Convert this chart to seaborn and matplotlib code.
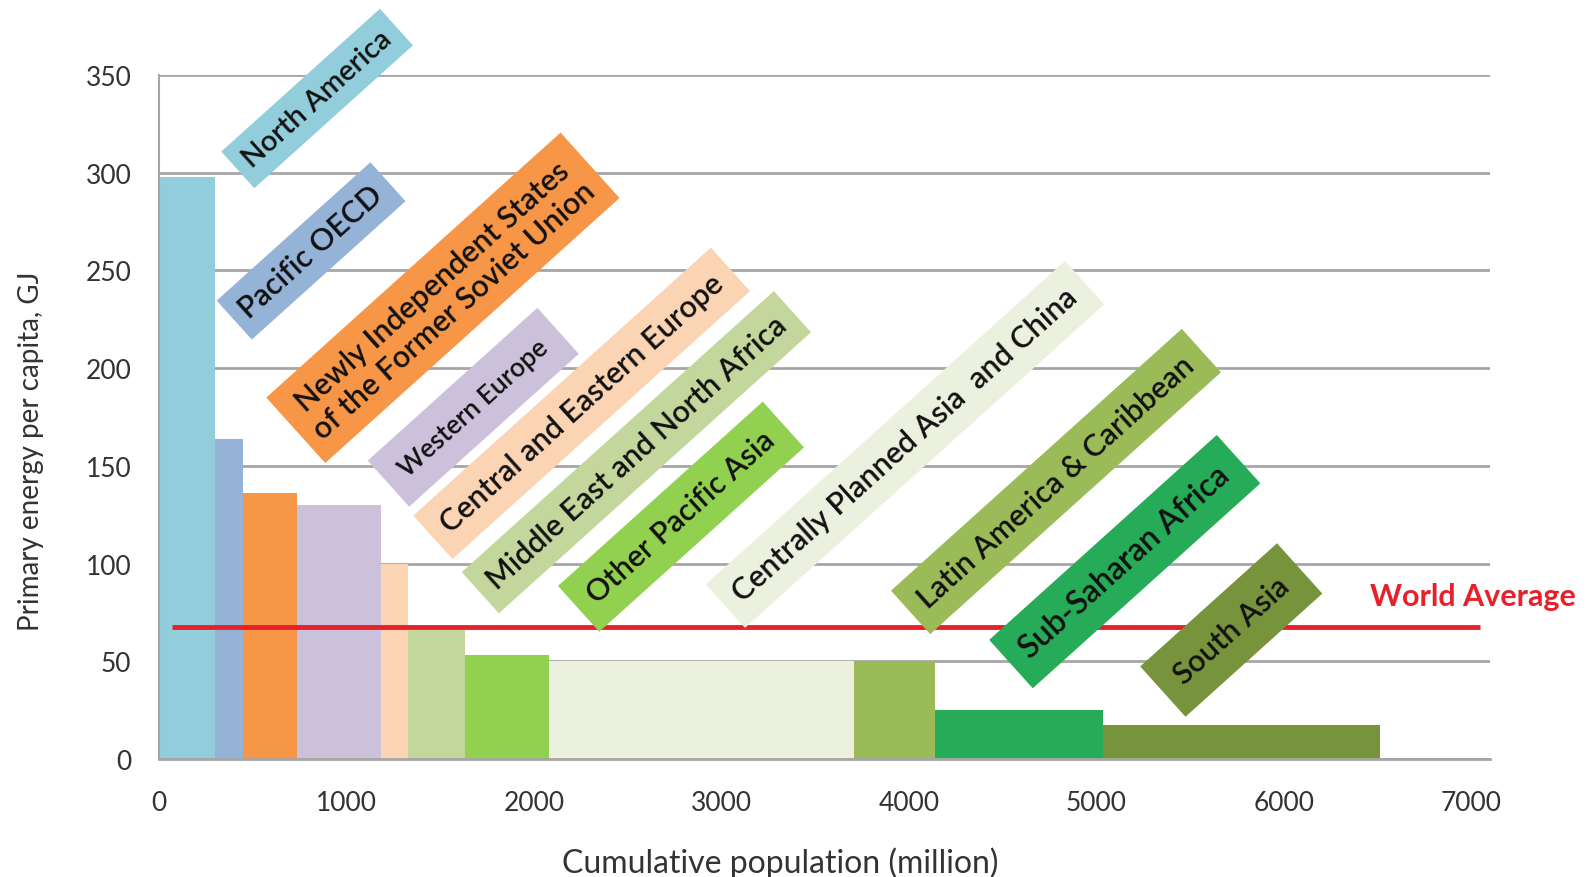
import numpy as np
import pandas as pd
import matplotlib
matplotlib.use("Agg")
import matplotlib.pyplot as plt
import seaborn as sns

# regions, population (million) and primary energy per capita (GJ)
regions = [
    "North America",
    "Pacific OECD",
    "Newly Independent States\nof the Former Soviet Union",
    "Western Europe",
    "Central and Eastern Europe",
    "Middle East and North Africa",
    "Other Pacific Asia",
    "Centrally Planned Asia  and China",
    "Latin America & Caribbean",
    "Sub-Saharan Africa",
    "South Asia",
]
population = [299, 149, 288, 448, 144, 304, 448, 1627, 432, 896, 1477]
energy = [298, 164, 136, 130, 100, 66, 53, 50, 50, 25, 17.5]
world_average = 67.5

x_ticks = [0, 1000, 2000, 3000, 4000, 5000, 6000, 7000]
y_ticks = [0, 50, 100, 150, 200, 250, 300, 350]

colors = ["#92CDDC", "#95B3D7", "#F79646", "#CCC1DA", "#FBD4B4", "#C3D69B",
          "#92D050", "#EBF1DE", "#9BBB59", "#26AB58", "#77933C"]

# label box centres (data coords), font sizes and paddings
label_pos = [(843, 338), (811, 260), (1514, 236), (1676, 180), (2254, 182),
             (2546, 157), (2784, 124), (3979, 161), (4784, 142), (5151, 101),
             (5719, 66)]
label_size = [21, 22, 22, 19, 22, 22, 22, 22, 22, 23, 22]
label_pad = [0.4, 0.4, 0.45, 0.7, 0.5, 0.45, 0.55, 0.5, 0.5, 0.55, 0.65]

edges = np.concatenate([[0], np.cumsum(population)]).astype(float).tolist()
df = pd.DataFrame({
    "region": regions,
    "mid": np.array(edges[:-1]) + np.array(population) / 2,
    "energy": energy,
})

sns.set_style("white")
plt.rcParams["font.family"] = ["Lato", "DejaVu Sans"]

fig = plt.figure(figsize=(15.89, 8.78), dpi=100)
ax = fig.add_axes([0.1001, 0.1344, 0.8377, 0.7790])

sns.histplot(data=df, x="mid", weights="energy", hue="region",
             palette=dict(zip(regions, colors)), bins=edges,
             multiple="layer", element="bars", alpha=1, linewidth=0,
             legend=False, ax=ax, zorder=2)

ax.hlines(world_average, 69, 7045, color="#E8202A", lw=3.5, zorder=3)
ax.text(6459, world_average + 16, "World Average", color="#E8202A",
        fontsize=22, fontweight="bold", va="center", ha="left", clip_on=False)

for name, c, (lx, ly), fs, pd_ in zip(regions, colors, label_pos,
                                      label_size, label_pad):
    ax.text(lx, ly, name, rotation=42, rotation_mode="anchor",
            ha="center", va="center", fontsize=fs, color="#111111",
            fontweight="semibold", linespacing=1.2, zorder=5,
            bbox=dict(boxstyle=f"square,pad={pd_}", fc=c, ec="none"))

ax.set_xlim(0, 7100)
ax.set_ylim(0, 350)
ax.set_xticks(x_ticks)
ax.set_yticks(y_ticks)
ax.yaxis.grid(True, color="#A6A6A6", lw=2)
ax.xaxis.grid(False)
ax.set_axisbelow(True)
for s in ["top", "right"]:
    ax.spines[s].set_visible(False)
ax.spines["left"].set_color("#A6A6A6")
ax.spines["bottom"].set_color("#A6A6A6")
ax.spines["left"].set_linewidth(1.5)
ax.spines["bottom"].set_linewidth(2)
ax.tick_params(axis="both", length=0, labelsize=19, colors="#333333")
ax.tick_params(axis="y", pad=20)
ax.tick_params(axis="x", pad=22)

ax.set_xlabel("Cumulative population (million)", fontsize=23,
              color="#333333")
ax.set_ylabel("Primary energy per capita, GJ", fontsize=20,
              color="#333333")
ax.xaxis.set_label_coords(0.4666, -0.128)
ax.yaxis.set_label_coords(-0.0867, 0.452)

fig.savefig("out.png", dpi=100)
